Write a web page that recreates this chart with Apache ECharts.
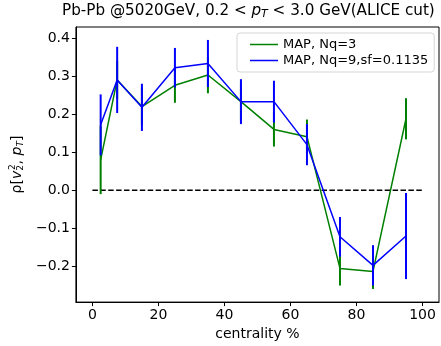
<!DOCTYPE html>
<html>
<head>
<meta charset="utf-8">
<script src="https://cdn.jsdelivr.net/npm/echarts@6/dist/echarts.min.js"></script>
<style>html,body{margin:0;padding:0;background:#fff}#c{width:441px;height:346px}</style>
</head>
<body>
<div id="c"></div>
<script>
const centrality = [2.5, 7.5, 15, 25, 35, 45, 55, 65, 75, 85, 95];
const greenY   = [0.080, 0.290, 0.220, 0.276, 0.303, 0.233, 0.160, 0.141, -0.205, -0.213, 0.188];
const greenErr = [0.090, 0.050, 0.050, 0.046, 0.048, 0.050, 0.045, 0.045, 0.045, 0.046, 0.054];
const blueY    = [0.172, 0.290, 0.218, 0.322, 0.333, 0.233, 0.233, 0.120, -0.122, -0.197, -0.120];
const blueErr  = [0.080, 0.087, 0.062, 0.052, 0.062, 0.059, 0.055, 0.054, 0.052, 0.053, 0.113];
const xTicks = [0, 20, 40, 60, 80, 100];
const yTicks = [-0.2, -0.1, 0.0, 0.1, 0.2, 0.3, 0.4];
const refLine = [[0, 0], [100, 0]];
const seriesNames = ['MAP, Nq=3', 'MAP, Nq=9,sf=0.1135'];

const FONT = 'DejaVu Sans';
const GREEN = '#008000', BLUE = '#0000ff';

function pairs(xs, ys) { return xs.map((x, i) => [x, ys[i]]); }
function errData(xs, ys, es) { return xs.map((x, i) => [x, ys[i] - es[i], ys[i] + es[i]]); }
function errSeries(data, color, z) {
  return {
    type: 'custom', data: data, z: z, silent: true,
    renderItem: function (params, api) {
      const p1 = api.coord([api.value(0), api.value(1)]);
      const p2 = api.coord([api.value(0), api.value(2)]);
      return { type: 'line', shape: { x1: p1[0], y1: p1[1], x2: p2[0], y2: p2[1] },
               style: { stroke: color, lineWidth: 2 } };
    }
  };
}
const fmt = v => {
  const s = Math.abs(v).toFixed(1);
  return (v < -1e-9 ? '\u2212' : '') + s;
};

const chart = echarts.init(document.getElementById('c'), null, { renderer: 'canvas' });
chart.setOption({
  animation: false,
  backgroundColor: '#fff',
  title: {
    text: 'Pb-Pb @5020GeV, 0.2 < {i|p}{s|T} < 3.0 GeV(ALICE cut)',
    left: 62, top: 3, padding: 0,
    textStyle: {
      fontFamily: FONT, fontSize: 15.2, fontWeight: 'normal', color: '#000',
      rich: {
        i: { fontFamily: FONT, fontSize: 15.2, fontStyle: 'italic', color: '#000' },
        s: { fontFamily: FONT, fontSize: 11, fontStyle: 'italic', color: '#000', padding: [6, 0, 0, 0] }
      }
    }
  },
  legend: {
    orient: 'vertical', left: 237, top: 33,
    data: seriesNames.map(n => ({ name: n, icon: 'rect' })),
    itemWidth: 28, itemHeight: 1.5, itemGap: 3,
    padding: [5, 6, 5, 13],
    backgroundColor: '#fff', borderColor: '#d5d5d5', borderWidth: 1, borderRadius: 3,
    textStyle: { fontFamily: FONT, fontSize: 13, color: '#000', lineHeight: 13 }
  },
  grid: { left: 64, right: 2, top: 27, bottom: 40, show: true, borderColor: '#000', borderWidth: 1, containLabel: false },
  xAxis: {
    type: 'value', min: -5, max: 105,
    name: 'centrality %', nameLocation: 'middle', nameGap: 23,
    nameTextStyle: { fontFamily: FONT, fontSize: 14, color: '#000' },
    axisLine: { show: true, onZero: false, lineStyle: { color: '#000', width: 1 } },
    axisTick: { show: true, length: 4, inside: false, customValues: xTicks, lineStyle: { color: '#000' } },
    axisLabel: { customValues: xTicks, fontFamily: FONT, fontSize: 14, color: '#000', margin: 6, formatter: v => String(v) },
    splitLine: { show: false }
  },
  yAxis: {
    type: 'value', min: -0.2935, max: 0.429,
    name: 'ρ[{i|v}{s|2}{sp|2}, {i|p}{t|T}]', nameLocation: 'middle', nameGap: 43, nameRotate: 90,
    nameTextStyle: {
      fontFamily: FONT, fontSize: 14, color: '#000',
      rich: {
        i: { fontFamily: FONT, fontSize: 14, fontStyle: 'italic', color: '#000' },
        s: { fontFamily: FONT, fontSize: 9, color: '#000', padding: [7, 0, 0, 0] },
        sp: { fontFamily: FONT, fontSize: 9, color: '#000', padding: [0, 0, 9, -5] },
        t: { fontFamily: FONT, fontSize: 9, fontStyle: 'italic', color: '#000', padding: [7, 0, 0, 0] }
      }
    },
    axisLine: { show: true, onZero: false, lineStyle: { color: '#000', width: 1 } },
    axisTick: { show: true, length: 4, inside: false, customValues: yTicks, lineStyle: { color: '#000' } },
    axisLabel: { customValues: yTicks, fontFamily: FONT, fontSize: 14, color: '#000', margin: 6, formatter: fmt },
    splitLine: { show: false }
  },
  series: [
    { type: 'line', data: refLine, symbol: 'none', silent: true, z: 1,
      lineStyle: { color: '#000', width: 1.5, type: [5.5, 2.4] } },
    { name: seriesNames[0], type: 'line', data: pairs(centrality, greenY), symbol: 'none', z: 2,
      color: GREEN, lineStyle: { color: GREEN, width: 1.5 } },
    errSeries(errData(centrality, greenY, greenErr), GREEN, 3),
    { name: seriesNames[1], type: 'line', data: pairs(centrality, blueY), symbol: 'none', z: 4,
      color: BLUE, lineStyle: { color: BLUE, width: 1.5 } },
    errSeries(errData(centrality, blueY, blueErr), BLUE, 5)
  ]
});
</script>
</body>
</html>
